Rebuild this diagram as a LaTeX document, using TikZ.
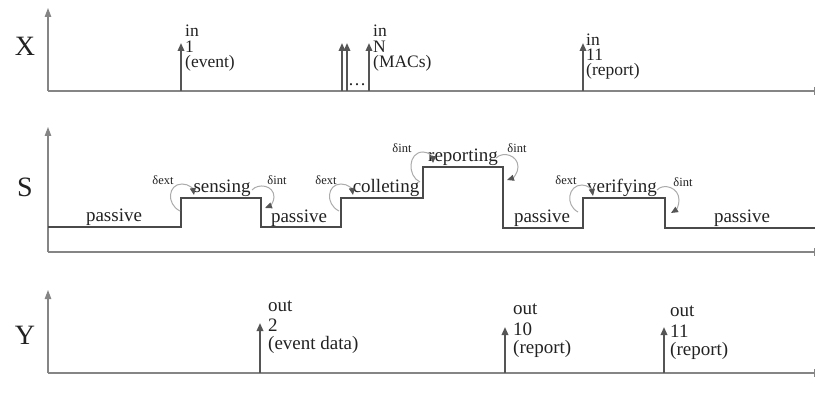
\documentclass[tikz,border=0pt]{standalone}
\usepackage{fontspec}
\setmainfont{Liberation Serif}
\usetikzlibrary{arrows.meta}
\definecolor{axisgray}{HTML}{858585}
\definecolor{stepgray}{HTML}{4A4A4A}
\definecolor{evgray}{HTML}{555555}
\definecolor{loopgray}{HTML}{ABABAB}
\definecolor{txt}{HTML}{222222}
\tikzset{
  axis/.style={draw=axisgray, line width=1.1pt},
  axisarrow/.style={axis, -{Triangle[length=9pt,width=6.5pt]}},
  endtick/.style={draw=axisgray, line width=1pt},
  event/.style={draw=evgray, line width=1.8pt, -{Triangle[length=8pt,width=6.5pt]}},
  stepline/.style={draw=stepgray, line width=1.8pt},
  loopline/.style={draw=loopgray, line width=1pt, -{Triangle[length=7pt,width=6pt,color=evgray]}},
  big/.style={font=\fontsize{28}{28}\selectfont, text=txt, inner sep=0pt},
  xlbl/.style={font=\fontsize{17.5}{17.5}\selectfont, text=txt, anchor=base west, inner sep=0pt},
  ylbl/.style={font=\fontsize{19}{19}\selectfont, text=txt, anchor=base west, inner sep=0pt},
  slbl/.style={font=\fontsize{19}{19}\selectfont, text=txt, anchor=base, inner sep=0pt},
  dlbl/.style={font=\fontsize{12.5}{12.5}\selectfont, text=txt, inner sep=0pt},
}
\begin{document}
\begin{tikzpicture}[x=1pt,y=-1pt]
\useasboundingbox (0,0) rectangle (815,404);

% ---------------- X panel ----------------
\node[big] (Xl) at (25,46) {X};
\coordinate (xo) at (48,91);
\coordinate (xt) at (48,8);
\coordinate (xe) at (814,91);
\draw[axisarrow] (xo) -- (xt);
\draw[axis] (xo) -- (xe);
\draw[endtick] (814,87) -- (814,95);

\coordinate (e1b) at (181,91); \coordinate (e1t) at (181,43);
\coordinate (e2b) at (342,91); \coordinate (e2t) at (342,43);
\coordinate (e3b) at (347,91); \coordinate (e3t) at (347,43);
\coordinate (e4b) at (369,91); \coordinate (e4t) at (369,43);
\coordinate (e5b) at (583,91); \coordinate (e5t) at (583,43);
\draw[event] (e1b) -- (e1t);
\draw[event] (e2b) -- (e2t);
\draw[event] (e3b) -- (e3t);
\draw[event] (e4b) -- (e4t);
\draw[event] (e5b) -- (e5t);

\node[xlbl] (in1a) at (185,37) {in};
\node[xlbl] (in1b) at (185,53) {1};
\node[xlbl] (in1c) at (185,68) {(event)};
\node[font=\fontsize{18}{18}\selectfont, text=txt, inner sep=0pt, anchor=base] (dots) at (357,86) {\dots};
\node[xlbl] (inNa) at (373,37) {in};
\node[xlbl] (inNb) at (373,53) {N};
\node[xlbl] (inNc) at (373,68) {(MACs)};
\node[xlbl] (in11a) at (586,46) {in};
\node[xlbl] (in11b) at (586,61) {11};
\node[xlbl] (in11c) at (586,76) {(report)};

% ---------------- S panel ----------------
\node[big] (Sl) at (25,187) {S};
\coordinate (so) at (48,252);
\coordinate (st) at (48,127);
\coordinate (se) at (814,252);
\draw[axisarrow] (so) -- (st);
\draw[axis] (so) -- (se);
\draw[endtick] (814,248) -- (814,256);

\draw[stepline] (48,227) -- (181,227) -- (181,198) -- (261,198) -- (261,227)
  -- (341,227) -- (341,198) -- (423,198) -- (423,167) -- (503,167) -- (503,228)
  -- (583,228) -- (583,198) -- (665,198) -- (665,228) -- (815,228);

\node[slbl] (p1) at (114,221) {passive};
\node[slbl] (s1) at (222,192) {sensing};
\node[slbl] (p2) at (299,222) {passive};
\node[slbl] (c1) at (386,192) {colleting};
\node[slbl] (r1) at (463,161) {reporting};
\node[slbl] (p3) at (542,222) {passive};
\node[slbl] (v1) at (622,192) {verifying};
\node[slbl] (p4) at (742,222) {passive};

% delta labels
\node[dlbl] (d1) at (163,180) {δext};
\node[dlbl] (d2) at (277,180) {δint};
\node[dlbl] (d3) at (326,180) {δext};
\node[dlbl] (d4) at (402,148) {δint};
\node[dlbl] (d5) at (517,148) {δint};
\node[dlbl] (d6) at (566,180) {δext};
\node[dlbl] (d7) at (683,182) {δint};

% external self loops (left of step up)
\draw[loopline] (180,211) .. controls (166,204) and (168,184) .. (182,184)
  .. controls (189,184) and (193,189) .. (194,195);
\draw[loopline] (339,211) .. controls (325,204) and (327,184) .. (341,184)
  .. controls (348,184) and (352,189) .. (353,195);
\draw[loopline] (578,212) .. controls (565,205) and (568,185) .. (582,185)
  .. controls (588,185) and (592,190) .. (593,196);
\draw[loopline] (420,182) .. controls (407,176) and (408,152) .. (423,152)
  .. controls (429,152) and (433,157) .. (433,163);
% internal self loops (right of step down)
\draw[loopline] (252,190) .. controls (258,183) and (274,185) .. (274,197)
  .. controls (274,202) and (270,206) .. (265,208);
\draw[loopline] (496,158) .. controls (503,151) and (518,155) .. (518,167)
  .. controls (518,173) and (513,178) .. (507,180);
\draw[loopline] (657,190) .. controls (663,183) and (679,187) .. (679,200)
  .. controls (679,206) and (676,210) .. (671,213);

% ---------------- Y panel ----------------
\node[big] (Yl) at (25,335) {Y};
\coordinate (yo) at (48,373);
\coordinate (yt) at (48,290);
\coordinate (ye) at (814,373);
\draw[axisarrow] (yo) -- (yt);
\draw[axis] (yo) -- (ye);
\draw[endtick] (814,369) -- (814,377);

\coordinate (o1b) at (260,373); \coordinate (o1t) at (260,323);
\coordinate (o2b) at (505,373); \coordinate (o2t) at (505,327);
\coordinate (o3b) at (664,373); \coordinate (o3t) at (664,327);
\draw[event] (o1b) -- (o1t);
\draw[event] (o2b) -- (o2t);
\draw[event] (o3b) -- (o3t);

\node[ylbl] (o1a) at (268,311) {out};
\node[ylbl] (o1n) at (268,331) {2};
\node[ylbl] (o1c) at (268,349) {(event data)};
\node[ylbl] (o2a) at (513,314) {out};
\node[ylbl] (o2n) at (513,335) {10};
\node[ylbl] (o2c) at (513,353) {(report)};
\node[ylbl] (o3a) at (670,316) {out};
\node[ylbl] (o3n) at (670,337) {11};
\node[ylbl] (o3c) at (670,355) {(report)};
\end{tikzpicture}
\end{document}
